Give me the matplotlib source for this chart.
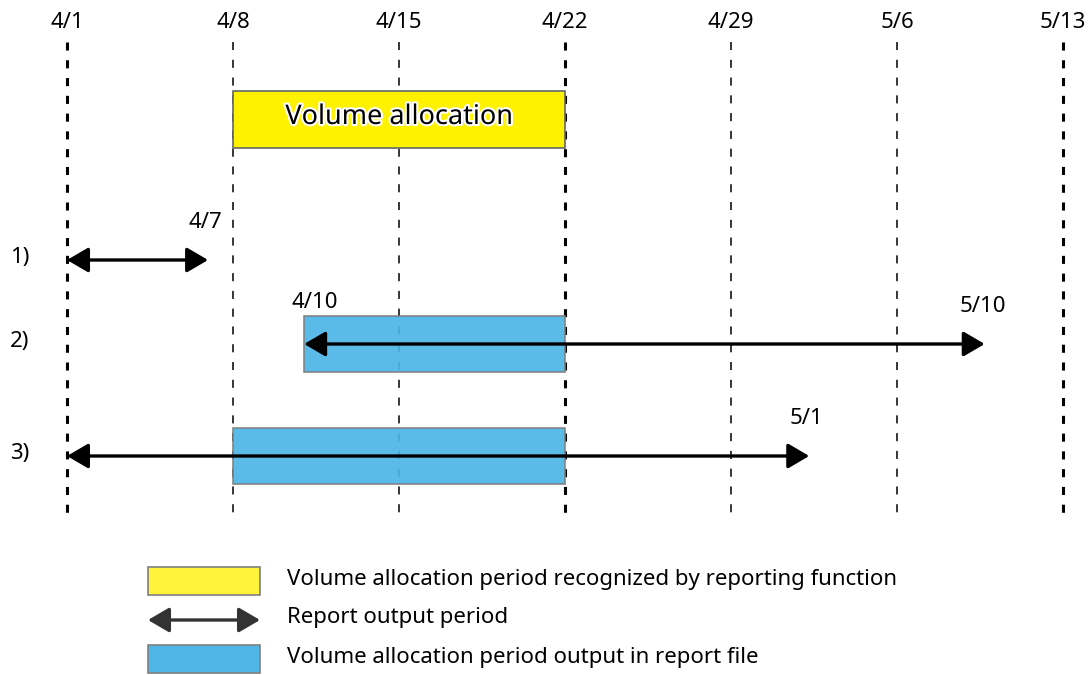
import matplotlib
matplotlib.use("Agg")
import matplotlib.pyplot as plt
import matplotlib.patheffects as pe
from matplotlib.patches import Rectangle

plt.rcParams["font.family"] = ["Noto Sans", "DejaVu Sans"]
plt.rcParams["lines.scale_dashes"] = False

# days counted from 4/1
week_labels = ["4/1", "4/8", "4/15", "4/22", "4/29", "5/6", "5/13"]
week_days = [0, 7, 14, 21, 28, 35, 42]
month_edge = [True, False, False, True, False, False, True]

alloc_period = (7, 21)
alloc_text = "Volume allocation"

row_names = ["1)", "2)", "3)"]
report_start = [0, 10, 0]
report_end = [5.95, 38.7, 31.3]
start_labels = [None, "4/10", None]
end_labels = ["4/7", "5/10", "5/1"]
output_start = [None, 10, 7]
output_end = [None, 21, 21]

legend_texts = [
    "Volume allocation period recognized by reporting function",
    "Report output period",
    "Volume allocation period output in report file",
]

YELLOW = "#fff200"
BLUE = "#4db6e6"
PX_PER_DAY = 166 / 7.0
X0 = 67
ARROW = "<|-|>,head_length=0.65,head_width=0.38"

fig = plt.figure(figsize=(10.92, 6.75), dpi=100)
ax = fig.add_axes([0, 0, 1, 1])
ax.set_xlim(-X0 / PX_PER_DAY, (1092 - X0) / PX_PER_DAY)
ax.set_ylim(675, 0)
ax.axis("off")

# weekly grid
for d, lab, bold in zip(week_days, week_labels, month_edge):
    ax.plot([d, d], [42, 515], color="black", lw=2.2 if bold else 1.1,
            dashes=(5.8, 7.0), zorder=1)
    ax.text(d, 23, lab, ha="center", va="center", fontsize=16)

# allocation period
ax.add_patch(Rectangle((alloc_period[0], 91), alloc_period[1] - alloc_period[0], 57,
                       facecolor=YELLOW, edgecolor="#666666", lw=1.2, zorder=3))
ax.text(sum(alloc_period) / 2, 117, alloc_text, ha="center", va="center",
        fontsize=19.5, zorder=4,
        path_effects=[pe.withStroke(linewidth=3, foreground="white")])

row_y = [260, 344, 456]


def draw_arrow(x0, x1, y, color="black", lw=2.4, scale=20):
    ax.annotate("", xy=(x1, y), xytext=(x0, y),
                arrowprops=dict(arrowstyle=ARROW, color=color, lw=lw,
                                shrinkA=0, shrinkB=0, mutation_scale=scale),
                zorder=5)


for i, name in enumerate(row_names):
    y = row_y[i]
    ax.text(-X0 / PX_PER_DAY + 20 / PX_PER_DAY, y - 3, name, ha="center",
            va="center", fontsize=16)
    if output_start[i] is not None:
        ax.add_patch(Rectangle((output_start[i], y - 28), output_end[i] - output_start[i], 56,
                               facecolor=BLUE, edgecolor="#7f7f7f", lw=1.2, alpha=0.92,
                               zorder=3))
    draw_arrow(report_start[i], report_end[i], y)
    if start_labels[i]:
        ax.text(report_start[i] + 0.45, y - 42, start_labels[i], ha="center",
                va="center", fontsize=16)
    ax.text(report_end[i] - 0.1, y - 38, end_labels[i], ha="center",
            va="center", fontsize=16)

# legend
lx0 = (148 - X0) / PX_PER_DAY
lx1 = (260 - X0) / PX_PER_DAY
tx = (287 - X0) / PX_PER_DAY
ax.add_patch(Rectangle((lx0, 567), lx1 - lx0, 28, facecolor="#fff23a",
                       edgecolor="#7f7f7f", lw=1.2))
ax.annotate("", xy=(lx1, 620), xytext=(lx0, 620),
            arrowprops=dict(arrowstyle=ARROW, color="#333333", lw=2.4,
                            shrinkA=0, shrinkB=0, mutation_scale=20))
ax.add_patch(Rectangle((lx0, 645), lx1 - lx0, 28, facecolor=BLUE,
                       edgecolor="#7f7f7f", lw=1.2))
for ty, txt in zip([580, 618, 657], legend_texts):
    ax.text(tx, ty, txt, ha="left", va="center", fontsize=16)

fig.savefig("out.png", dpi=100)
